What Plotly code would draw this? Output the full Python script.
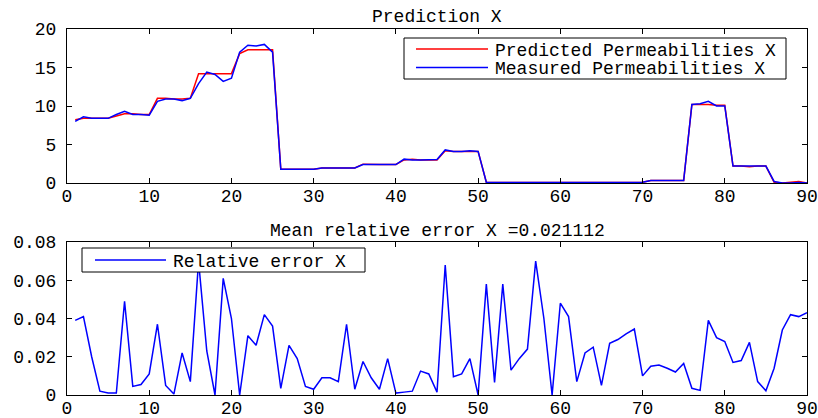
import plotly.graph_objects as go
from plotly.subplots import make_subplots

x = list(range(1, 91))

measured = [
    8.0, 8.6, 8.4, 8.4, 8.4, 8.9, 9.3, 8.9, 8.9, 8.8,
    10.6, 10.9, 10.9, 10.7, 11.0, 12.9, 14.4, 14.1, 13.2, 13.6,
    17.0, 17.9, 17.8, 18.0, 17.0, 1.8, 1.8, 1.8, 1.8, 1.8,
    1.95, 1.95, 1.95, 1.95, 1.95, 2.4, 2.4, 2.4, 2.4, 2.4,
    3.1, 3.0, 3.0, 3.0, 3.05, 4.3, 4.1, 4.1, 4.2, 4.1,
    0.1, 0.05, 0.05, 0.05, 0.05, 0.05, 0.05, 0.05, 0.05, 0.05,
    0.1, 0.1, 0.1, 0.1, 0.1, 0.1, 0.1, 0.1, 0.1, 0.1,
    0.33, 0.33, 0.33, 0.33, 0.33, 10.2, 10.3, 10.6, 10.0, 10.0,
    2.2, 2.2, 2.2, 2.2, 2.2, 0.2, 0.0, 0.0, 0.05, 0.0,
]

predicted = [
    8.2, 8.4, 8.4, 8.4, 8.4, 8.7, 9.0, 9.0, 8.9, 8.9,
    11.0, 11.0, 10.9, 10.9, 11.0, 14.2, 14.2, 14.2, 14.2, 14.2,
    16.8, 17.3, 17.3, 17.3, 17.3, 1.8, 1.8, 1.8, 1.8, 1.8,
    1.95, 1.95, 1.95, 1.95, 1.95, 2.45, 2.4, 2.4, 2.4, 2.4,
    3.0, 3.1, 3.0, 3.0, 3.0, 4.2, 4.1, 4.1, 4.1, 4.1,
    0.1, 0.05, 0.05, 0.05, 0.05, 0.05, 0.05, 0.05, 0.05, 0.05,
    0.1, 0.1, 0.1, 0.1, 0.1, 0.1, 0.1, 0.1, 0.1, 0.1,
    0.33, 0.33, 0.33, 0.33, 0.33, 10.2, 10.2, 10.2, 10.1, 10.1,
    2.2, 2.2, 2.1, 2.2, 2.2, 0.1, 0.0, 0.1, 0.2, 0.0,
]

rel_error = [
    0.039, 0.041, 0.020, 0.002, 0.001, 0.001, 0.049, 0.0045, 0.0055, 0.011,
    0.037, 0.005, 0.0005, 0.022, 0.007, 0.070, 0.023, 0.0, 0.061, 0.040,
    0.0, 0.031, 0.026, 0.042, 0.036, 0.0035, 0.026, 0.019, 0.0045, 0.003,
    0.009, 0.009, 0.007, 0.037, 0.003, 0.0175, 0.009, 0.003, 0.019, 0.001,
    0.0015, 0.002, 0.0125, 0.011, 0.0015, 0.068, 0.0096, 0.011, 0.019, 0.0,
    0.058, 0.0066, 0.058, 0.013, 0.019, 0.024, 0.070, 0.040, 0.0, 0.048,
    0.041, 0.007, 0.022, 0.025, 0.005, 0.027, 0.029, 0.032, 0.0345, 0.010,
    0.015, 0.0157, 0.014, 0.012, 0.0165, 0.0035, 0.0024, 0.039, 0.030, 0.028,
    0.017, 0.018, 0.0275, 0.007, 0.0022, 0.014, 0.034, 0.042, 0.041, 0.043,
]

x_ticks = [0, 10, 20, 30, 40, 50, 60, 70, 80, 90]
y1_ticks = [0, 5, 10, 15, 20]
y2_ticks = [0, 0.02, 0.04, 0.06, 0.08]
y2_labels = ["0", "0.02", "0.04", "0.06", "0.08"]

title_top = "Prediction X"
title_bottom = "Mean relative error X =0.021112"
legend_top = ["Predicted Permeabilities X", "Measured Permeabilities X"]
legend_bottom = ["Relative error X"]
colors_top = ["#ff0000", "#0000ff"]
color_bottom = "#0000ff"

FONT = "Liberation Mono"
FS = 18

W, H = 818, 418
ML, MR, MT, MB = 67, 11, 29, 23
PW = W - ML - MR
PH = H - MT - MB


def px_x(px):
    return (px - ML) / PW


def px_y(py):
    return 1 - (py - MT) / PH


fig = make_subplots(rows=2, cols=1, vertical_spacing=0.0)

fig.add_trace(go.Scatter(x=x, y=predicted, mode="lines", name=legend_top[0],
                         line=dict(color=colors_top[0], width=1.5)), row=1, col=1)
fig.add_trace(go.Scatter(x=x, y=measured, mode="lines", name=legend_top[1],
                         line=dict(color=colors_top[1], width=1.5)), row=1, col=1)
fig.add_trace(go.Scatter(x=x, y=rel_error, mode="lines", name=legend_bottom[0],
                         line=dict(color=color_bottom, width=1.5)), row=2, col=1)

axis_common = dict(showline=True, linecolor="black", linewidth=1, mirror="ticks",
                   ticks="inside", ticklen=5, tickcolor="black", showgrid=False,
                   zeroline=False, automargin=False,
                   tickfont=dict(family=FONT, size=FS, color="black"))

fig.update_xaxes(range=[0, 90], tickvals=x_ticks, ticklabelstandoff=-4, **axis_common)
fig.update_yaxes(range=[0, 20], tickvals=y1_ticks, row=1, col=1, ticklabelstandoff=6, **axis_common)
fig.update_yaxes(range=[0, 0.08], tickvals=y2_ticks, ticktext=y2_labels, row=2, col=1,
                 ticklabelstandoff=6, **axis_common)

shapes = []
annotations = []

# top legend (manual)
shapes.append(dict(type="rect", xref="paper", yref="paper",
                   x0=px_x(404), x1=px_x(786), y0=px_y(79), y1=px_y(38),
                   line=dict(color="black", width=1), fillcolor="white", layer="above"))
for i, (lab, col) in enumerate(zip(legend_top, colors_top)):
    ly = 49 + i * 18.5
    shapes.append(dict(type="line", xref="paper", yref="paper",
                       x0=px_x(416), x1=px_x(488), y0=px_y(ly), y1=px_y(ly),
                       line=dict(color=col, width=1.5), layer="above"))
    annotations.append(dict(text=lab, xref="paper", yref="paper", x=px_x(493), y=px_y(ly + 1.5),
                            xanchor="left", yanchor="middle", showarrow=False, height=18,
                            font=dict(family=FONT, size=FS, color="black")))

# bottom legend (manual)
shapes.append(dict(type="rect", xref="paper", yref="paper",
                   x0=px_x(82), x1=px_x(365), y0=px_y(272), y1=px_y(248),
                   line=dict(color="black", width=1), fillcolor="white", layer="above"))
shapes.append(dict(type="line", xref="paper", yref="paper",
                   x0=px_x(95), x1=px_x(166), y0=px_y(260), y1=px_y(260),
                   line=dict(color=color_bottom, width=1.5), layer="above"))
annotations.append(dict(text=legend_bottom[0], xref="paper", yref="paper", x=px_x(171), y=px_y(261.5),
                        xanchor="left", yanchor="middle", showarrow=False,
                        font=dict(family=FONT, size=FS, color="black")))

annotations.append(dict(text=title_top, x=0.5, y=px_y(17), xref="paper", yref="paper",
                        xanchor="center", yanchor="middle", showarrow=False,
                        font=dict(family=FONT, size=FS, color="black")))
annotations.append(dict(text=title_bottom, x=0.5, y=px_y(231), xref="paper", yref="paper",
                        xanchor="center", yanchor="middle", showarrow=False,
                        font=dict(family=FONT, size=FS, color="black")))

fig.update_layout(
    width=W, height=H,
    margin=dict(l=ML, r=MR, t=MT, b=MB),
    paper_bgcolor="white", plot_bgcolor="white",
    font=dict(family=FONT, size=FS, color="black"),
    xaxis=dict(domain=[0, 1]), xaxis2=dict(domain=[0, 1]),
    yaxis=dict(domain=[px_y(183), 1.0]),
    yaxis2=dict(domain=[0.0, px_y(242)]),
    showlegend=False,
    shapes=shapes,
    annotations=annotations,
)

fig.write_html("out.html")
